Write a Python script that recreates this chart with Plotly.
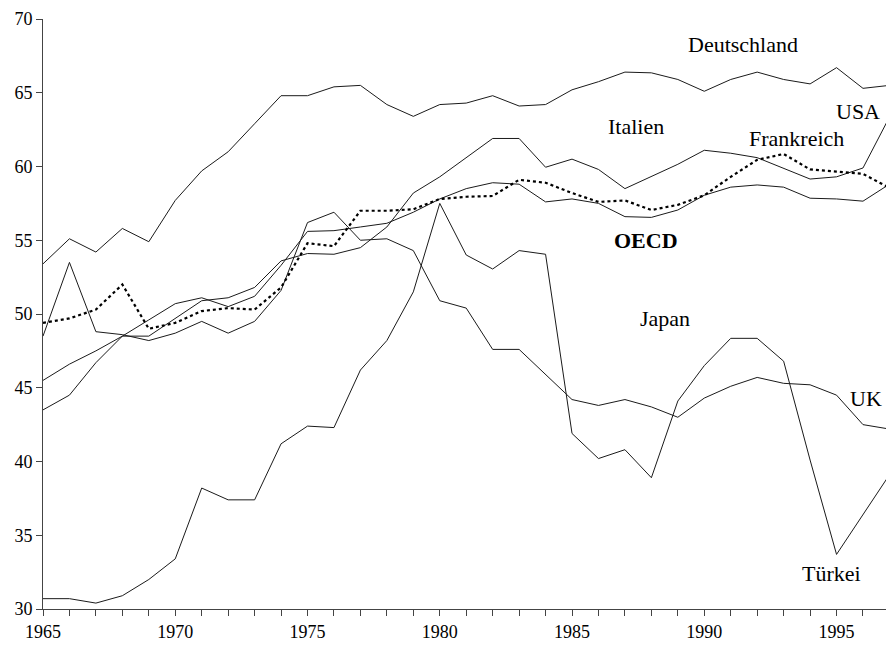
import plotly.graph_objects as go

years = list(range(1965, 1998))

deutschland = [53.4, 55.1, 54.2, 55.8, 54.9, 57.7, 59.7, 61.0, 62.9, 64.8,
               64.8, 65.4, 65.5, 64.2, 63.4, 64.2, 64.3, 64.8, 64.1, 64.2,
               65.2, 65.75, 66.4, 66.35, 65.9, 65.1, 65.9, 66.4, 65.9, 65.6,
               66.7, 65.3, 65.5]
usa = [43.5, 44.5, 46.7, 48.5, 48.5, 49.7, 50.9, 51.1, 51.8, 53.6,
       54.1, 54.05, 54.5, 55.9, 58.2, 59.3, 60.6, 61.9, 61.9, 59.95,
       60.5, 59.8, 58.5, 59.35, 60.15, 61.1, 60.9, 60.6, 59.9, 59.15,
       59.3, 59.9, 63.35]
frankreich = [45.5, 46.6, 47.5, 48.5, 49.6, 50.7, 51.1, 50.5, 51.2, 53.3,
              55.6, 55.65, 55.9, 56.15, 56.9, 57.8, 58.5, 58.9, 58.8, 57.6,
              57.8, 57.5, 56.6, 56.55, 57.05, 58.05, 58.6, 58.75, 58.6, 57.85,
              57.8, 57.65, 58.8]
oecd = [49.4, 49.7, 50.3, 52.0, 49.0, 49.4, 50.2, 50.4, 50.3, 51.8,
        54.8, 54.6, 57.0, 57.0, 57.1, 57.8, 57.95, 58.0, 59.1, 58.9,
        58.2, 57.6, 57.7, 57.05, 57.4, 58.05, 59.3, 60.45, 60.85, 59.8,
        59.65, 59.5, 58.55]
uk = [48.5, 53.5, 48.8, 48.6, 48.2, 48.7, 49.5, 48.7, 49.5, 51.6,
      56.2, 56.9, 55.0, 55.1, 54.3, 50.9, 50.4, 47.6, 47.6, 45.9,
      44.2, 43.8, 44.2, 43.7, 43.0, 44.3, 45.1, 45.7, 45.3, 45.2,
      44.5, 42.5, 42.2]
tuerkei = [30.7, 30.7, 30.4, 30.9, 32.0, 33.4, 38.2, 37.4, 37.4, 41.2,
           42.4, 42.3, 46.2, 48.2, 51.5, 57.5, 54.0, 53.05, 54.3, 54.05,
           41.9, 40.2, 40.8, 38.9, 44.1, 46.5, 48.35, 48.35, 46.8, 40.1,
           33.7, 36.4, 39.1]

label_text = ["Deutschland", "USA", "Italien", "Frankreich", "<b>OECD</b>", "Japan", "UK", "Türkei"]
label_x = [1991.45, 1995.8, 1987.4, 1993.5, 1987.8, 1988.5, 1996.1, 1994.8]
label_y = [68.24, 63.7, 62.68, 61.93, 55.0, 49.7, 44.3, 32.44]

FONT = "Liberation Serif, Times New Roman, serif"
LINE = "#1a1a1a"

fig = go.Figure()
for name, vals in [("Deutschland", deutschland), ("USA", usa), ("Frankreich", frankreich),
                   ("UK", uk), ("Türkei", tuerkei)]:
    fig.add_trace(go.Scatter(x=years, y=vals, mode="lines", name=name,
                             line=dict(color=LINE, width=1)))
fig.add_trace(go.Scatter(x=years, y=oecd, mode="lines", name="OECD",
                         line=dict(color="#000000", width=2.2, dash="dot")))

for t, x, y in zip(label_text, label_x, label_y):
    fig.add_annotation(x=x, y=y, text=t, showarrow=False, xref="x", yref="y",
                       xanchor="center", yanchor="middle",
                       font=dict(family=FONT, size=22, color="black"))

fig.update_layout(
    width=886, height=646,
    margin=dict(l=43, r=0, t=19, b=37),
    paper_bgcolor="white", plot_bgcolor="white",
    showlegend=False,
    font=dict(family=FONT, size=18, color="black"),
)
fig.update_xaxes(range=[1965, 1996.87], tickvals=list(range(1965, 1996, 5)),
                 ticks="outside", ticklen=6, tickcolor="#444", showline=True,
                 linecolor="#444", linewidth=1, showgrid=False, zeroline=False,
                 minor=dict(dtick=1, tick0=1965, ticks="outside", ticklen=6, tickcolor="#444", showgrid=False),
                 tickfont=dict(family=FONT, size=18, color="black"))
fig.update_yaxes(range=[30, 70], dtick=5, tick0=30,
                 ticks="outside", ticklen=6, tickcolor="#444", showline=True,
                 linecolor="#444", linewidth=1, showgrid=False, zeroline=False,
                 tickfont=dict(family=FONT, size=18, color="black"))

# remove the default page margin so the figure fills the window exactly
fig.write_html("out.html",
               config={"displayModeBar": False},
               post_script="document.body.style.margin='0';document.body.style.overflow='hidden';")
